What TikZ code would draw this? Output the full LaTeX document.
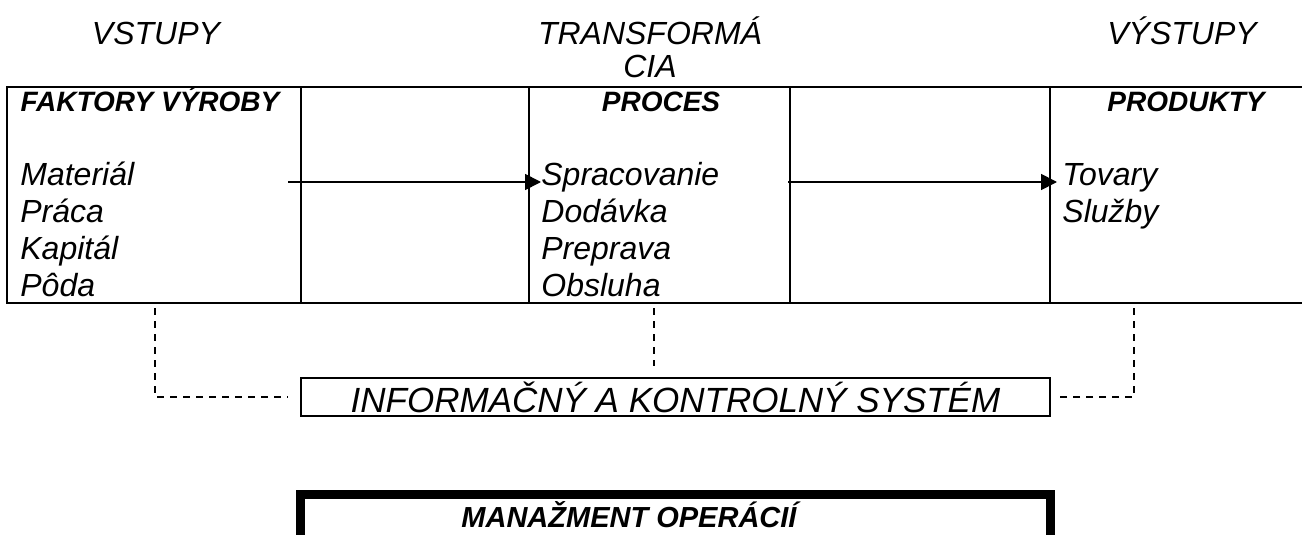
\documentclass[tikz,border=0pt]{standalone}
\usepackage{fontspec}
\setmainfont{Liberation Sans}
\usetikzlibrary{arrows.meta}
\begin{document}
\begin{tikzpicture}[x=0.5pt,y=-0.5pt,
  frame/.style={line width=1.25pt},
  link/.style={line width=1pt, dash pattern=on 3.5pt off 3pt},
  flow/.style={line width=0.9pt, -{Triangle[length=8pt,width=8pt]}},
  title/.style={font=\fontsize{16}{16.5}\selectfont\itshape, align=center, inner sep=0, anchor=base},
  head/.style={font=\fontsize{14}{16}\selectfont\bfseries\itshape, inner sep=0, anchor=base},
  item/.style={font=\fontsize{16}{18.5}\selectfont\itshape, align=left, inner sep=0, anchor=base west},
  infobox/.style={draw, line width=1.25pt},
  mgmt/.style={line width=4.5pt},
]
\useasboundingbox (0,0) rectangle (1302,535);
\begin{scope}
\clip (0,0) rectangle (1302,535);

% column titles (multi-line nodes sit on the baseline of their last line)
\node[title] (inputs) at (156,45) {VSTUPY};
\node[title] (transform) at (650,78) {TRANSFORMÁ\\CIA};
\node[title] (outputs) at (1182,45) {VÝSTUPY};

% table frame and column rules
\draw[frame] (1340,87) -- (7,87) -- (7,303) -- (1340,303);
\foreach \x in {301,529,790,1050} \draw[frame] (\x,87) -- (\x,303);

% column headings
\node[head] (factors) at (150,112) {FAKTORY VÝROBY};
\node[head] (process) at (661,112) {PROCES};
\node[head] (products) at (1186,112) {PRODUKTY};

% column contents
\node[item] (inlist) at (20,296) {Materiál\\Práca\\Kapitál\\Pôda};
\node[item] (proclist) at (541,296) {Spracovanie\\Dodávka\\Preprava\\Obsluha};
\node[item] (outlist) at (1062,222) {Tovary\\Služby};

% flow arrows
\coordinate (f1s) at (288,182);
\coordinate (f1e) at (541,182);
\coordinate (f2s) at (788,182);
\coordinate (f2e) at (1057,182);
\draw[flow] (f1s) -- (f1e);
\draw[flow] (f2s) -- (f2e);

% information and control system
\node[infobox, minimum width=374.5pt, minimum height=19pt, inner sep=0,
      font=\fontsize{17.5}{20}\selectfont\itshape] (info) at (675.5,397) {INFORMAČNÝ A KONTROLNÝ SYSTÉM};

% dashed links to the information system
\coordinate (l1) at (155,308);
\coordinate (l1e) at (288,397);
\coordinate (l2) at (654,308);
\coordinate (l2e) at (654,366);
\coordinate (l3) at (1134,308);
\coordinate (l3e) at (1057,397);
\draw[link] (l1) |- (l1e);
\draw[link] (l2) -- (l2e);
\draw[link] (l3) |- (l3e);

% operations management frame
\draw[mgmt] (300.5,545) -- (300.5,494.5) -- (1050.5,494.5) -- (1050.5,545);
\node[head, font=\fontsize{14.5}{16}\selectfont\bfseries\itshape] (mgmt) at (629,527) {MANAŽMENT OPERÁCIÍ};
\end{scope}
\end{tikzpicture}
\end{document}
